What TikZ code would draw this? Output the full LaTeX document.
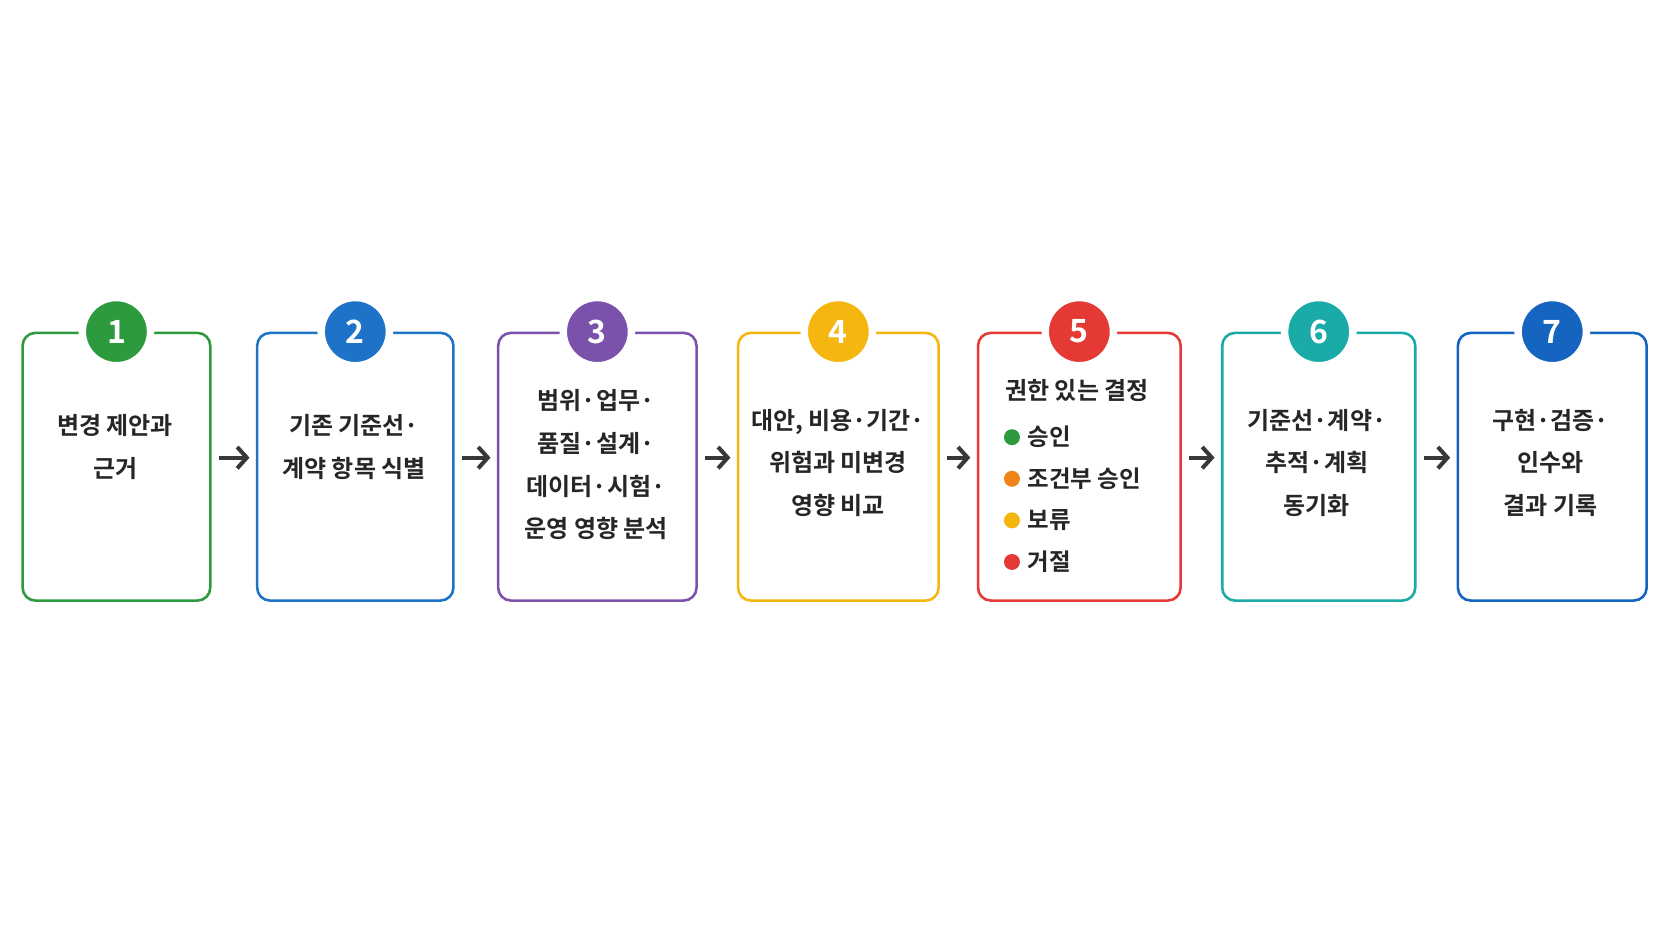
\documentclass[tikz,border=0pt]{standalone}
\usepackage{fontspec}
\setmainfont{Noto Sans CJK KR}[BoldFont={Noto Sans CJK KR Bold}]
\usetikzlibrary{arrows.meta}
\definecolor{cg}{HTML}{2E9A3E}
\definecolor{cb}{HTML}{1E73C8}
\definecolor{cp}{HTML}{7B52AB}
\definecolor{cy}{HTML}{F5B70F}
\definecolor{cr}{HTML}{E53935}
\definecolor{ct}{HTML}{1AABA8}
\definecolor{cb7}{HTML}{1565C0}
\definecolor{co}{HTML}{EF8418}
\tikzset{
 box/.style={draw=#1, line width=2.4pt, rounded corners=12pt, fill=white, anchor=north west},
 num/.style={circle, fill=#1, draw=white, line width=7pt, minimum size=64pt, inner sep=0pt, text=white, font=\bfseries\fontsize{30}{30}\selectfont},
 txt/.style={align=center, font=\bfseries\fontsize{22.5}{40}\selectfont, text=black!85},
 li/.style={anchor=west, font=\bfseries\fontsize{22}{24}\selectfont, text=black!85},
 dot/.style={circle, fill=#1, inner sep=0pt, minimum size=15pt},
 arr/.style={-{Straight Barb[length=9pt,width=20pt]}, line width=3.8pt, draw=black!78, shorten <=7pt, shorten >=6pt}
}
\begin{document}
\begin{tikzpicture}[x=1pt,y=-1pt]
\fill[white] (0,0) rectangle (1568,882);
\useasboundingbox (0,0) rectangle (1568,882);
\node[box=cg, minimum width=176pt, minimum height=251pt] (b1) at (20,311) {};
\node[box=cb, minimum width=184pt, minimum height=251pt] (b2) at (240,311) {};
\node[box=cp, minimum width=186pt, minimum height=251pt] (b3) at (466,311) {};
\node[box=cy, minimum width=188pt, minimum height=251pt] (b4) at (691,311) {};
\node[box=cr, minimum width=190pt, minimum height=251pt] (b5) at (916,311) {};
\node[box=ct, minimum width=181pt, minimum height=251pt] (b6) at (1145,311) {};
\node[box=cb7, minimum width=177pt, minimum height=251pt] (b7) at (1366,311) {};
\foreach \i/\c in {1/cg,2/cb,3/cp,4/cy,5/cr,6/ct,7/cb7}
  \node[num=\c] (n\i) at (b\i.north) {\i};
\node[txt] (t1) at (108,419) {변경 제안과\\근거};
\node[txt] (t2) at (332,419) {기존 기준선·\\계약 항목 식별};
\node[txt] (t3) at (559,436) {범위·업무·\\품질·설계·\\데이터·시험·\\운영 영향 분석};
\node[txt] (t4) at (786,434) {대안, 비용·기간·\\위험과 미변경\\영향 비교};
\node[txt] (t5) at (1010,366) {권한 있는 결정};
\node[dot=cg] (d1) at (949,410) {};
\node[dot=co] (d2) at (949,449) {};
\node[dot=cy] (d3) at (949,488) {};
\node[dot=cr] (d4) at (949,527) {};
\node[li] (l1) at (960,410) {승인};
\node[li] (l2) at (960,449) {조건부 승인};
\node[li] (l3) at (960,488) {보류};
\node[li] (l4) at (960,527) {거절};
\node[txt] (t6) at (1235,434) {기준선·계약·\\추적·계획\\동기화};
\node[txt] (t7) at (1454,434) {구현·검증·\\인수와\\결과 기록};
\foreach \a/\b in {1/2,2/3,3/4,4/5,5/6,6/7}
  \draw[arr] ([yshift=8.5pt]b\a.east) -- ([yshift=8.5pt]b\b.west);
\end{tikzpicture}
\end{document}
